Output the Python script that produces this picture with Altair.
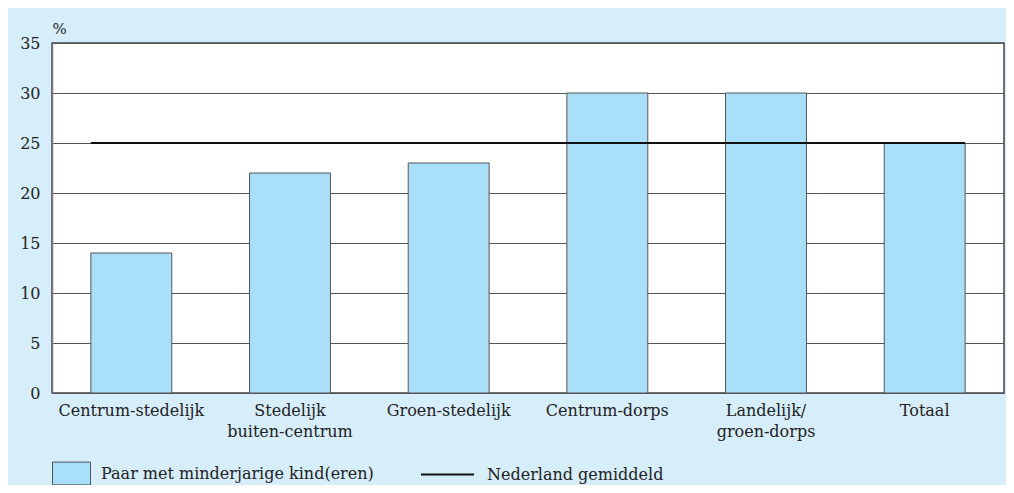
import altair as alt
import pandas as pd

categories = ["Centrum-stedelijk", "Stedelijk|buiten-centrum", "Groen-stedelijk",
              "Centrum-dorps", "Landelijk/|groen-dorps", "Totaal"]
values = [14, 22, 23, 30, 30, 25]
average = 25
bar_series = "Paar met minderjarige kind(eren)"
line_series = "Nederland gemiddeld"

FONT = "DejaVu Serif"
BG = "#d6edfa"
BAR = "#aadffa"
TXT = "#222222"

bars_df = pd.DataFrame({"cat": categories, "val": values, "series": bar_series})
line_df = pd.DataFrame({"start": [categories[0]], "end": [categories[-1]],
                        "val": [average], "series": [line_series]})

xscale = alt.Scale(domain=categories, paddingInner=0.49, paddingOuter=0.245)

xenc = alt.X("cat:N", scale=xscale, title=None,
             axis=alt.Axis(labelExpr="split(datum.value, '|')", labelAngle=0,
                           ticks=False, domain=False, labelPadding=9,
                           labelFont=FONT, labelFontSize=16, labelColor=TXT,
                           labelLineHeight=21, labelBaseline="top"))

yenc = alt.Y("val:Q", title="%",
             scale=alt.Scale(domain=[0, 35], nice=False),
             axis=alt.Axis(values=[0, 5, 10, 15, 20, 25, 30, 35], ticks=False,
                           domain=True, domainColor="#777777", domainWidth=1.5,
                           grid=True, gridColor="#555555", gridWidth=1,
                           labelPadding=12, labelFont=FONT, labelFontSize=16,
                           labelColor=TXT,
                           titleAngle=0, titleX=0, titleY=-7, titleAlign="left",
                           titleBaseline="bottom", titleFont=FONT,
                           titleFontSize=15, titleFontWeight="normal",
                           titleColor=TXT))

bars = alt.Chart(bars_df).mark_bar(stroke="#555555", strokeWidth=1).encode(
    x=xenc,
    y=yenc,
    fill=alt.Fill("series:N", scale=alt.Scale(domain=[bar_series], range=[BAR]),
                  legend=alt.Legend(title=None, orient="none", legendX=0, legendY=411,
                                    symbolType="M-1,-0.6H1V0.6H-1Z", symbolSize=1444,
                                    symbolStrokeColor="#555555", symbolStrokeWidth=1,
                                    symbolFillColor=BAR, labelLimit=0,
                                    labelFont=FONT, labelFontSize=16, labelColor=TXT,
                                    labelOffset=10, padding=0)),
)

rule = alt.Chart(line_df).mark_rule(strokeWidth=2, xOffset=-40.5, x2Offset=40.5).encode(
    x=alt.X("start:N", scale=xscale),
    x2="end:N",
    y="val:Q",
    stroke=alt.Stroke("series:N", scale=alt.Scale(domain=[line_series], range=["#111111"]),
                      legend=alt.Legend(title=None, orient="none", legendX=368, legendY=404,
                                        symbolType="stroke", symbolSize=2809,
                                        symbolStrokeWidth=2, labelLimit=0,
                                        labelFont=FONT, labelFontSize=16, labelColor=TXT,
                                        labelOffset=12, padding=0)),
)

chart = alt.layer(bars, rule).resolve_scale(fill="independent", stroke="independent").properties(
    width=952, height=350,
    autosize=alt.AutoSizeParams(type="none"),
    padding={"left": 44, "top": 35, "right": 2, "bottom": 92},
    background=BG,
).configure_view(stroke="#444444", strokeWidth=1.5, fill="white")

chart.save("out.html", embed_options={"renderer": "svg", "actions": False})
